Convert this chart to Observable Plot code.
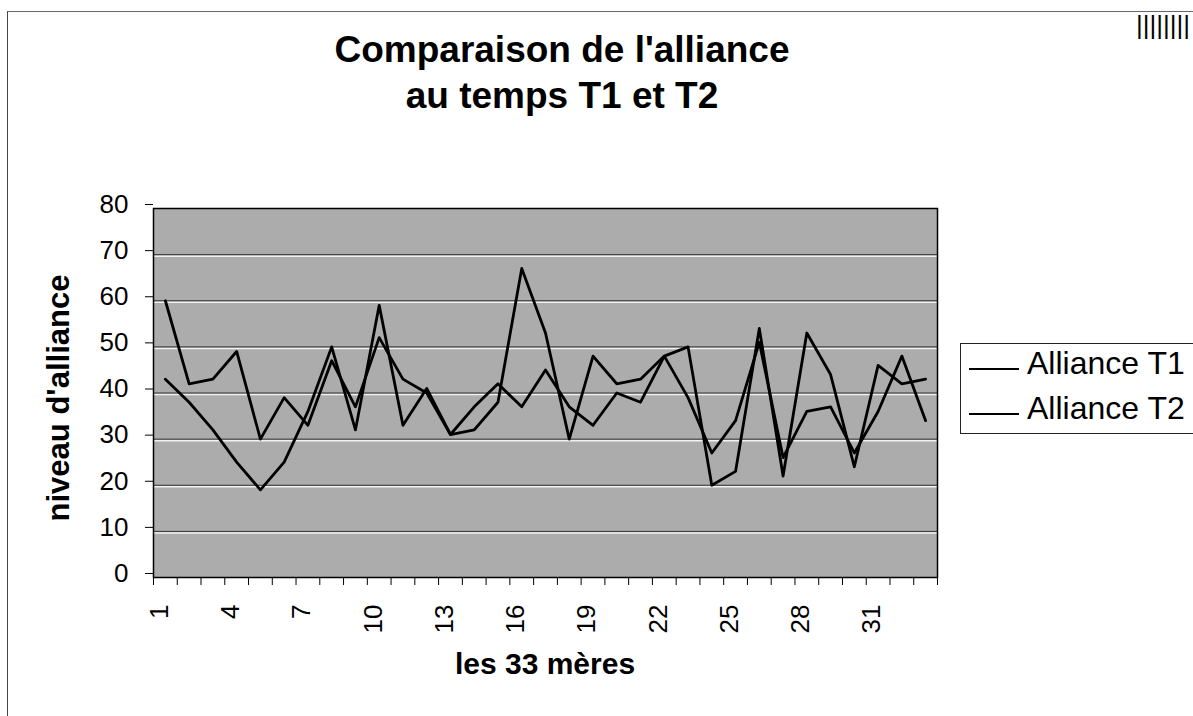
<!DOCTYPE html>
<html>
<head>
<meta charset="utf-8">
<script src="https://cdn.jsdelivr.net/npm/d3@7"></script>
<script src="https://cdn.jsdelivr.net/npm/@observablehq/plot@0.6"></script>
<style>
  body { margin: 0; background: #fff; font-family: "Liberation Sans", Arial, sans-serif; }
  #page { position: relative; width: 1193px; height: 716px; overflow: hidden; background: #fff; }
  #border { position: absolute; left: 7px; top: 11px; width: 1300px; height: 800px;
            border-left: 1.5px solid #444; border-top: 1.5px solid #666; }
  #chart { position: absolute; left: 0; top: 0; }
  #title { position: absolute; left: 0; top: 27px; width: 1124px; text-align: center;
           font-weight: bold; font-size: 37px; line-height: 46px; color: #000; }
  #marks { position: absolute; left: 1136px; top: 10px; font-size: 26px; line-height: 30px; color: #000; }
  #xtitle { position: absolute; left: 345px; width: 400px; top: 649px; text-align: center;
            font-weight: bold; font-size: 30px; line-height: 30px; color: #000; }
  #ytitle { position: absolute; left: 58px; top: 398px; transform: translate(-50%, -50%) rotate(-90deg);
            white-space: nowrap; font-weight: bold; font-size: 31px; line-height: 31px; color: #000; }
  #legend { position: absolute; left: 960px; top: 343px; width: 260px; height: 91px;
            border: 1.5px solid #222; box-sizing: border-box; background: #fff; }
  .item { position: absolute; left: 66px; font-size: 32px; line-height: 32px; white-space: nowrap; color: #000; }
  .sw { position: absolute; left: -58px; top: 21px; width: 50px; height: 2px; background: #000; }
</style>
</head>
<body>
<div id="page">
  <div id="border"></div>
  <div id="chart"></div>
  <div id="title">Comparaison de l'alliance<br>au temps T1 et T2</div>
  <div id="marks">||||||||</div>
  <div id="xtitle">les 33 mères</div>
  <div id="ytitle">niveau d'alliance</div>
  <div id="legend"></div>
</div>
<script>
// ---- data ----
const mothers = [1, 2, 3, 4, 5, 6, 7, 8, 9, 10, 11, 12, 13, 14, 15, 16, 17,
                 18, 19, 20, 21, 22, 23, 24, 25, 26, 27, 28, 29, 30, 31, 32, 33];
const allianceT1 = [60, 42, 43, 49, 30, 39, 33, 47, 37, 52, 43, 40, 31, 37, 42, 37, 45,
                    37, 33, 40, 38, 48, 39, 27, 34, 51, 26, 36, 37, 27, 36, 48, 34];
const allianceT2 = [43, 38, 32, 25, 19, 25, 36, 50, 32, 59, 33, 41, 31, 32, 38, 67, 53,
                    30, 48, 42, 43, 48, 50, 20, 23, 54, 22, 53, 44, 24, 46, 42, 43];
const seriesNames = ["Alliance T1", "Alliance T2"];
const yTicks = [0, 10, 20, 30, 40, 50, 60, 70, 80];
const xTickLabels = [1, 4, 7, 10, 13, 16, 19, 22, 25, 28, 31];

const rows = mothers.flatMap((m, i) => [
  {mere: m, valeur: allianceT1[i], serie: seriesNames[0]},
  {mere: m, valeur: allianceT2[i], serie: seriesNames[1]}
]);
// category boundaries for the small x ticks (between categories)
const bounds = [mothers[0] - 0.5, ...mothers.map(m => m + 0.5)];

const chart = Plot.plot({
  width: 1193,
  height: 716,
  marginLeft: 153,
  marginRight: 256,
  marginTop: 208,
  marginBottom: 139,
  style: {fontFamily: "'Liberation Sans', Arial, sans-serif", fontSize: "26px", color: "#000", background: "transparent", overflow: "visible"},
  x: {domain: [bounds[0], bounds[bounds.length - 1]]},
  y: {domain: [yTicks[0], yTicks[yTicks.length - 1]]},
  marks: [
    Plot.frame({fill: "#acacac"}),
    Plot.ruleY(yTicks.slice(1, -1), {stroke: "#f2f2f2", strokeWidth: 1.5, dy: 1.5}),
    Plot.ruleY(yTicks.slice(1, -1), {stroke: "#333", strokeWidth: 1}),
    Plot.line(rows, {x: "mere", y: "valeur", z: "serie", stroke: "#000", strokeWidth: 2.8}),
    Plot.frame({stroke: "#000", strokeWidth: 1.5}),
    Plot.axisY({ticks: yTicks, tickSize: 8, tickPadding: 17, label: null, dy: -4, fontSize: 26}),
    Plot.axisX({ticks: bounds, tickSize: 8, tickFormat: () => "", label: null}),
    Plot.axisX({ticks: xTickLabels, tickSize: 0, tickPadding: 27, tickRotate: -90, label: null, dx: -6, fontSize: 26})
  ]
});
document.getElementById("chart").appendChild(chart);

// legend (line swatches + labels)
const legend = document.getElementById("legend");
const tops = [3, 48];
seriesNames.forEach((name, i) => {
  const item = document.createElement("div");
  item.className = "item";
  item.style.top = tops[i] + "px";
  const sw = document.createElement("span");
  sw.className = "sw";
  item.appendChild(sw);
  item.appendChild(document.createTextNode(name));
  legend.appendChild(item);
});
</script>
</body>
</html>
